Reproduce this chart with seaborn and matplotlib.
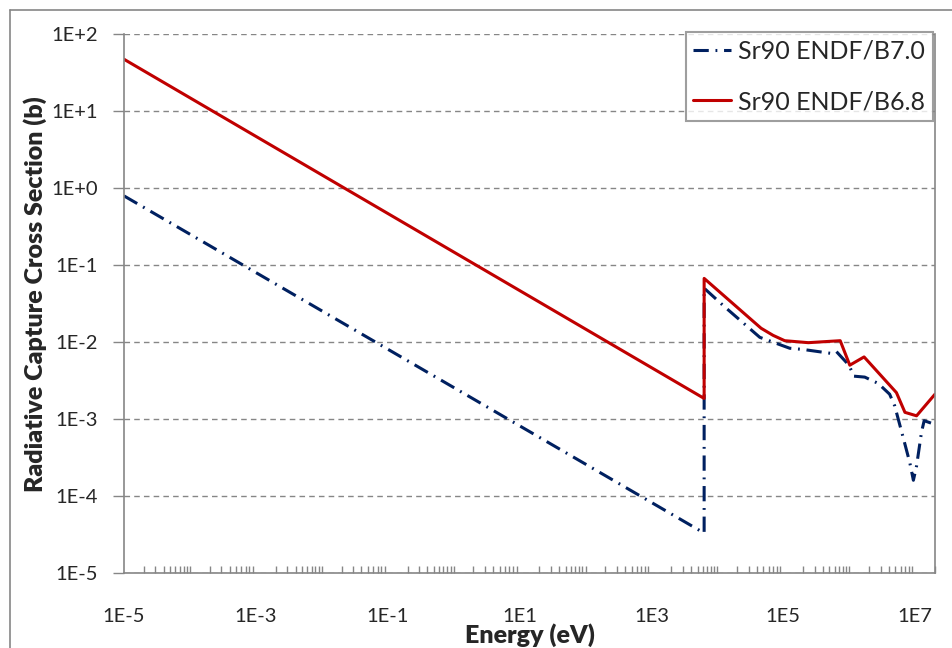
import numpy as np
import pandas as pd
import matplotlib
matplotlib.use("Agg")
import matplotlib.pyplot as plt
import matplotlib.ticker as mticker
from matplotlib.lines import Line2D
import seaborn as sns

# --- data ---
b70_energy = [1e-5, 6.3e3, 6.3e3, 1.28e4, 4.4e4, 1.25e5, 2.0e5, 5.4e5, 6.4e5,
              9.9e5, 1.18e6, 1.72e6, 2.75e6, 4.1e6, 4.9e6, 5.5e6, 6.6e6,
              8.3e6, 9.4e6, 1.05e7, 1.25e7, 1.37e7, 2.0e7]
b70_xs = [0.79, 3.3e-5, 0.050, 0.0288, 0.0115, 0.0083, 0.0080, 0.0071, 0.0075,
          0.0050, 0.0036, 0.0035, 0.0029, 0.0021, 0.00148, 0.00102, 5.7e-4,
          2.7e-4, 1.6e-4, 2.45e-4, 6.8e-4, 9.5e-4, 8.5e-4]

b68_energy = [1e-5, 6.3e3, 6.3e3, 4.6e4, 7.0e4, 1.05e5, 2.4e5, 7.3e5, 1.02e6,
              1.68e6, 5.2e6, 7.0e6, 1.05e7, 2.0e7]
b68_xs = [47.0, 1.85e-3, 0.067, 0.0151, 0.0122, 0.0104, 0.0098, 0.0104, 0.0050,
          0.0064, 0.0022, 0.00122, 0.0011, 0.0021]

x_major = [1e-5, 1e-3, 1e-1, 1e1, 1e3, 1e5, 1e7]
x_labels = ["1E-5", "1E-3", "1E-1", "1E1", "1E3", "1E5", "1E7"]
y_major = [1e-5, 1e-4, 1e-3, 1e-2, 1e-1, 1e0, 1e1, 1e2]
y_labels = ["1E-5", "1E-4", "1E-3", "1E-2", "1E-1", "1E+0", "1E+1", "1E+2"]

b70 = pd.DataFrame({"energy": b70_energy, "xs": b70_xs})
b68 = pd.DataFrame({"energy": b68_energy, "xs": b68_xs})

sns.set_style("white")
plt.rcParams["font.family"] = ["Lato", "DejaVu Sans"]

gray = "#868686"
fig = plt.figure(figsize=(9.53, 6.48), dpi=100)
ax = fig.add_axes([124 / 953, 75 / 648, 811 / 953, 539 / 648])

sns.lineplot(data=b70, x="energy", y="xs", sort=False, estimator=None, ax=ax,
             color="#002060", linewidth=2.2, label="Sr90 ENDF/B7.0")
ax.lines[-1].set_dashes([5, 2.2, 0.6, 2.2])
sns.lineplot(data=b68, x="energy", y="xs", sort=False, estimator=None, ax=ax,
             color="#C00000", linewidth=2.2, label="Sr90 ENDF/B6.8")

ax.set_xscale("log")
ax.set_yscale("log")
ax.set_xlim(1e-5, 2e7)
ax.set_ylim(1e-5, 1e2)

ax.set_xticks(x_major)
ax.set_xticklabels(x_labels)
ax.xaxis.set_minor_locator(mticker.LogLocator(base=10, subs=np.arange(2, 11), numticks=50))
ax.xaxis.set_minor_formatter(mticker.NullFormatter())
ax.set_yticks(y_major)
ax.set_yticklabels(y_labels)
ax.yaxis.set_minor_locator(mticker.NullLocator())

ax.tick_params(axis="x", which="major", direction="out", length=8, width=1,
               color=gray, pad=17, labelsize=14.5)
ax.tick_params(axis="x", which="minor", direction="in", length=5, width=1,
               color=gray, bottom=True)
ax.tick_params(axis="y", which="major", direction="out", length=8, width=1,
               color=gray, pad=11, labelsize=14.5, left=True)

ax.grid(True, axis="y", which="major", color=gray, linestyle=(0, (4, 3)), linewidth=1)
ax.grid(False, axis="x")
for side in ["left", "bottom", "right"]:
    ax.spines[side].set_color(gray)
    ax.spines[side].set_linewidth(1.2)
ax.spines["top"].set_visible(False)

ax.set_xlabel("Energy (eV)", fontsize=18, fontweight="heavy")
ax.set_ylabel("Radiative Capture Cross Section (b)", fontsize=18, fontweight="heavy")
ax.xaxis.set_label_coords(0.5, -0.093)
ax.yaxis.set_label_coords(-0.095, 0.518)

leg = ax.legend(loc="upper right", bbox_to_anchor=(933 / 953, 616 / 648),
                bbox_transform=fig.transFigure, borderaxespad=0, fontsize=18,
                frameon=True, fancybox=False, handlelength=1.5, handletextpad=0.3,
                labelspacing=1.1, borderpad=0.3)
leg.get_frame().set_edgecolor(gray)
leg.get_frame().set_linewidth(1.5)

# outer chart border
fig.add_artist(Line2D([10 / 953, 10 / 953], [0, 638 / 648], transform=fig.transFigure,
                      color=gray, linewidth=1.2))
fig.add_artist(Line2D([10 / 953, 1], [638 / 648, 638 / 648], transform=fig.transFigure,
                      color=gray, linewidth=1.2))

fig.savefig("out.png", dpi=100)
